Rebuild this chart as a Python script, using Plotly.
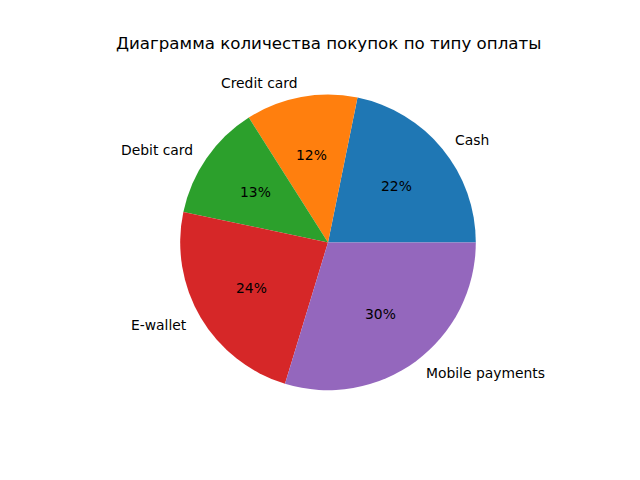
import math
import plotly.graph_objects as go

labels = ["Cash", "Credit card", "Debit card", "E-wallet", "Mobile payments"]
values = [218, 122, 127, 236, 297]
colors = ["#1f77b4", "#ff7f0e", "#2ca02c", "#d62728", "#9467bd"]
title = "Диаграмма количества покупок по типу оплаты"

W, H = 640, 480
cx, cy, R = 328.0, 242.4, 147.8  # pie centre / radius in pixels

total = sum(values)
first_deg = 360.0 * values[0] / total

fig = go.Figure(go.Pie(
    labels=labels, values=values, sort=False,
    direction="counterclockwise", rotation=90 - first_deg,
    marker=dict(colors=colors, line=dict(width=0)),
    textinfo="none", hoverinfo="label+percent", showlegend=False,
    domain=dict(x=[(cx - R) / W, (cx + R) / W], y=[(H - cy - R) / H, (H - cy + R) / H]),
))

annotations = []
cum = 0.0
font = dict(family="DejaVu Sans", size=13.89, color="black")
for lab, v in zip(labels, values):
    mid = (cum + v / 2) / total * 2 * math.pi
    cum += v
    c, s = math.cos(mid), math.sin(mid)
    lx, ly = cx + 1.1 * R * c, cy - 1.1 * R * s
    annotations.append(dict(x=lx / W, y=1 - ly / H, xref="paper", yref="paper",
                            text=lab, showarrow=False, font=font, borderpad=0,
                            xanchor="left" if c > 0 else "right", yanchor="middle"))
    px, py = cx + 0.6 * R * c, cy - 0.6 * R * s
    annotations.append(dict(x=px / W, y=1 - py / H, xref="paper", yref="paper",
                            text=f"{round(v / total * 100):.0f}%", showarrow=False, font=font,
                            borderpad=0, xanchor="center", yanchor="middle"))

annotations.append(dict(x=328 / W, y=1 - 43 / H, xref="paper", yref="paper",
                        text=title, showarrow=False, borderpad=0,
                        font=dict(family="DejaVu Sans", size=16.67, color="black"),
                        xanchor="center", yanchor="middle"))

fig.update_layout(
    width=W, height=H, margin=dict(l=0, r=0, t=0, b=0),
    paper_bgcolor="white", plot_bgcolor="white",
    annotations=annotations,
)
fig.write_html("out.html", config={"displayModeBar": False},
               post_script="document.body.style.margin='0';")
